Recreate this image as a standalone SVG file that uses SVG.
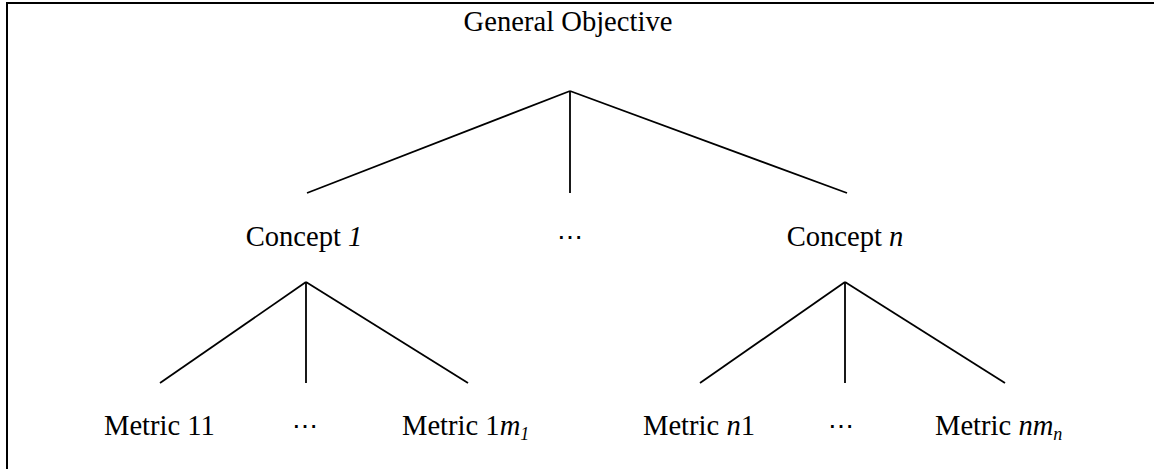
<svg xmlns="http://www.w3.org/2000/svg" width="1154" height="469" viewBox="0 0 1154 469">
<style>
text{font-family:"Liberation Serif","Times New Roman",serif;font-size:28.6px;fill:#000}
.i{font-style:italic}
.sub{font-size:18px;font-style:italic}
.dots{font-family:"DejaVu Serif","Liberation Serif",serif;font-size:26px}
.c line{stroke:#000;stroke-width:1.8;stroke-linecap:butt}
</style>
<rect x="0" y="0" width="1154" height="469" fill="#fff"/>
<rect x="7" y="3" width="1200" height="520" fill="none" stroke="#000" stroke-width="2"/>
<g class="c" id="connectors">
<line x1="570" y1="91" x2="307" y2="193"/>
<line x1="570" y1="91" x2="570" y2="193"/>
<line x1="570" y1="91" x2="847" y2="193"/>
<line x1="306" y1="282" x2="160" y2="383"/>
<line x1="306" y1="282" x2="306" y2="383"/>
<line x1="306" y1="282" x2="468" y2="383"/>
<line x1="845" y1="282" x2="700" y2="383"/>
<line x1="845" y1="282" x2="845" y2="383"/>
<line x1="845" y1="282" x2="1005" y2="383"/>
</g>
<g id="general"><text x="568" y="31" text-anchor="middle">General Objective</text></g>
<g id="concept1"><text x="304" y="246" text-anchor="middle">Concept <tspan class="i">1</tspan></text></g>
<g id="conceptdots"><text class="dots" x="570" y="246" text-anchor="middle">⋯</text></g>
<g id="conceptn"><text x="845" y="246" text-anchor="middle">Concept <tspan class="i">n</tspan></text></g>
<g id="metric11"><text x="104" y="435">Metric 11</text></g>
<g id="metricdots1"><text class="dots" x="305" y="435" text-anchor="middle">⋯</text></g>
<g id="metric1m1"><text x="402" y="435">Metric 1<tspan class="i">m</tspan><tspan class="sub" dy="5">1</tspan></text></g>
<g id="metricn1"><text x="643" y="435">Metric <tspan class="i">n</tspan>1</text></g>
<g id="metricdotsn"><text class="dots" x="841" y="435" text-anchor="middle">⋯</text></g>
<g id="metricnmn"><text x="935" y="435">Metric <tspan class="i">nm</tspan><tspan class="sub" dy="5">n</tspan></text></g>
</svg>
